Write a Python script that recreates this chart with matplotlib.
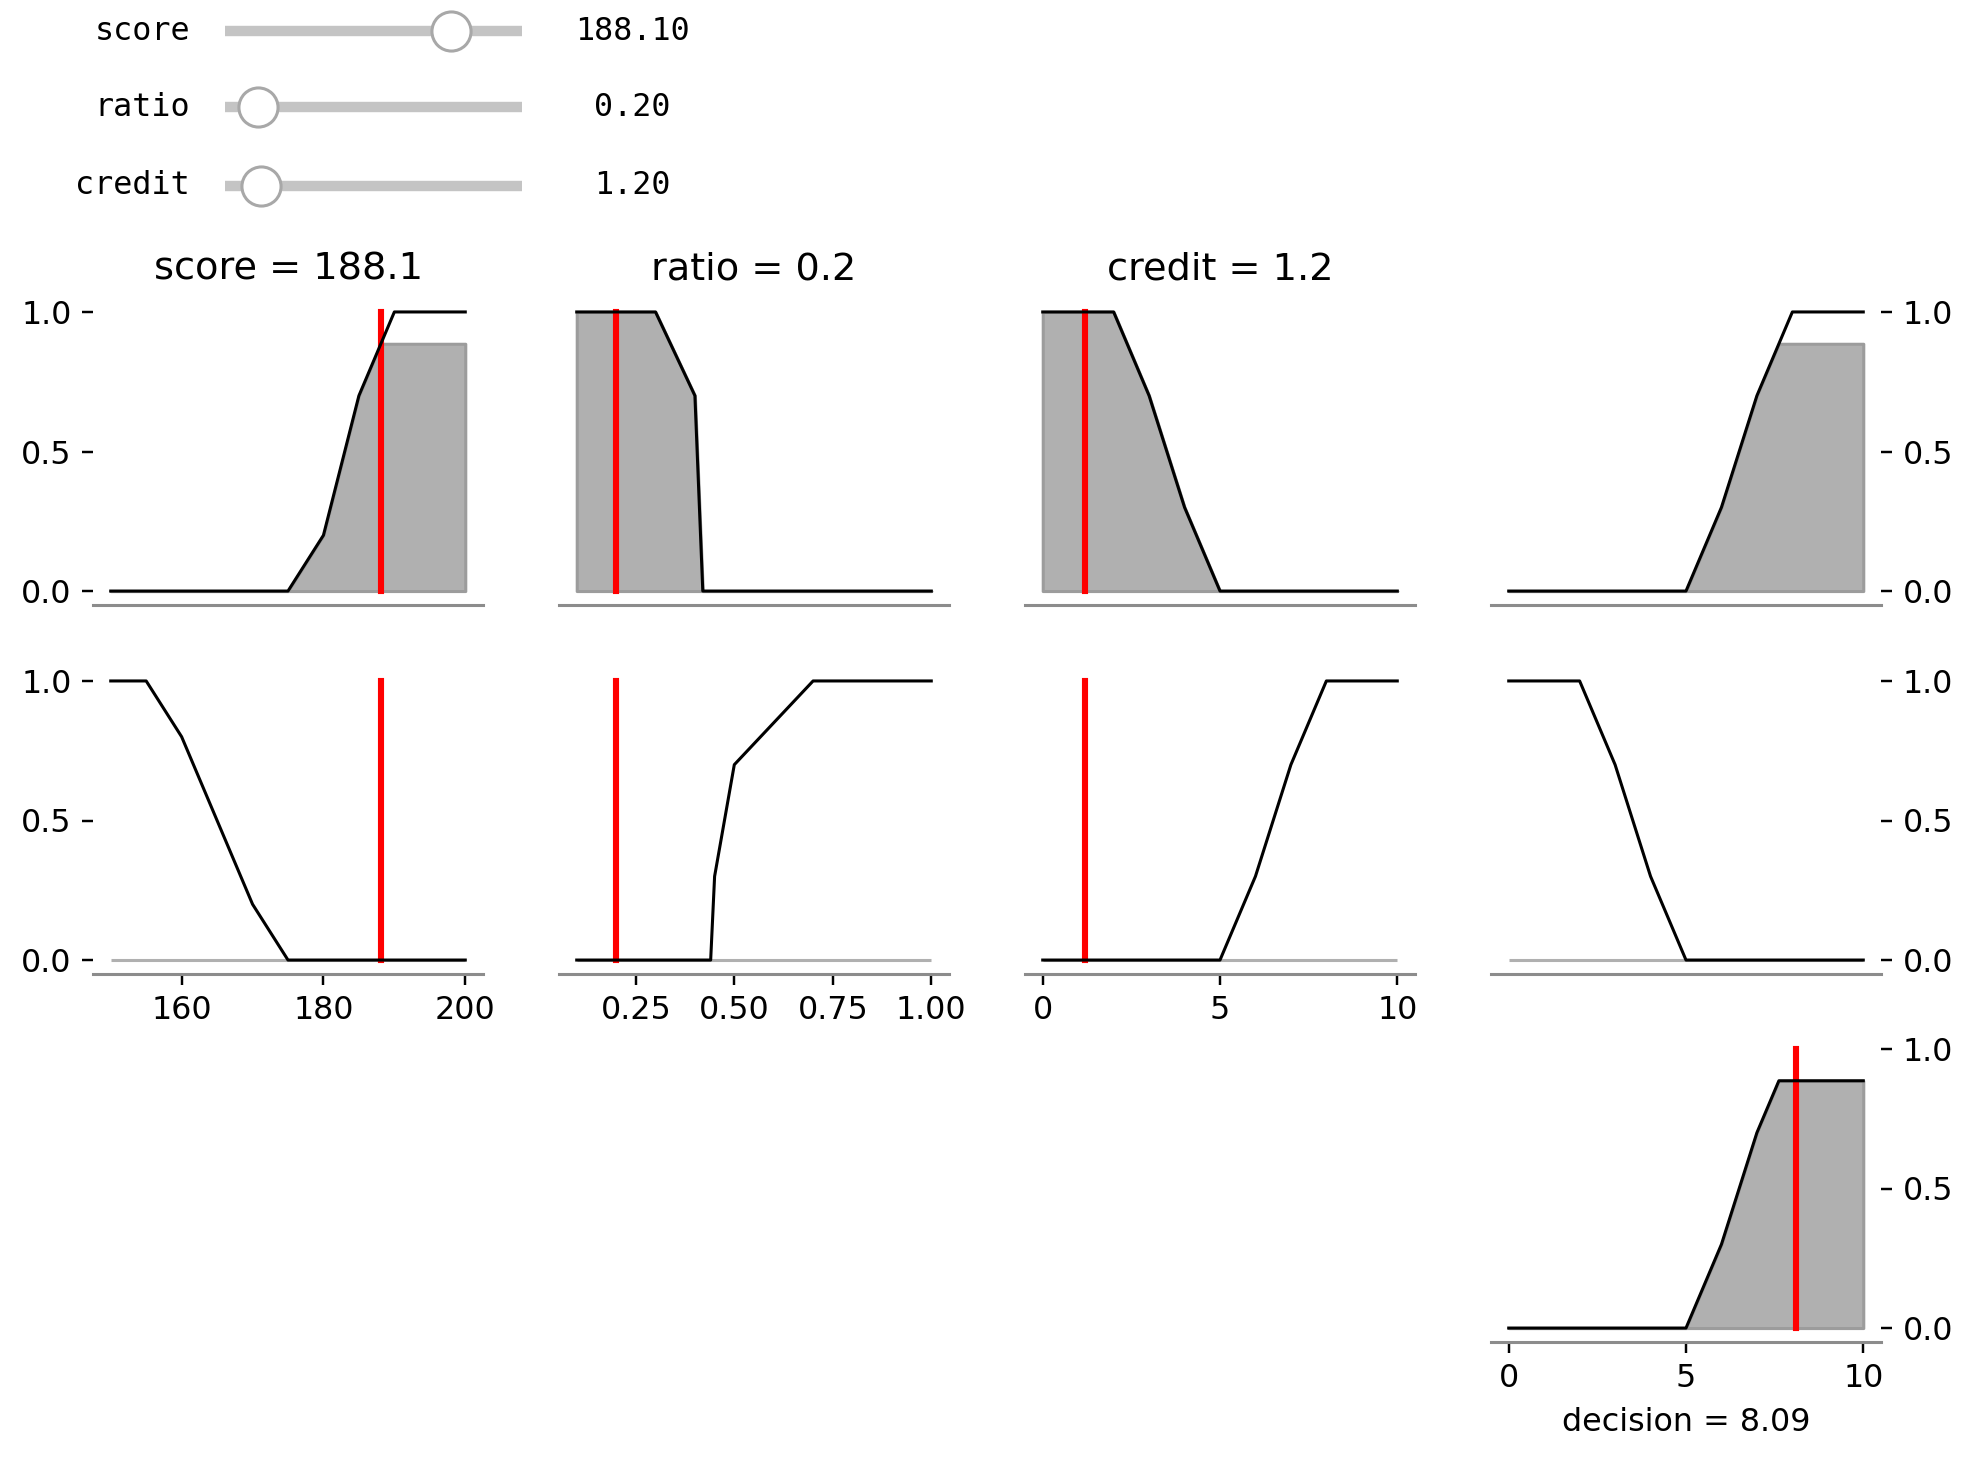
import numpy as np
import matplotlib
matplotlib.use("Agg")
import matplotlib.pyplot as plt

# ---------------- data ----------------
slider_names = ["score", "ratio", "credit"]
slider_values = [188.1, 0.2, 1.2]
slider_min = [150, 0.1, 0]
slider_max = [200, 1.0, 10]
slider_fmt = ["188.10", "0.20", "1.20"]

titles = ["score = 188.1", "ratio = 0.2", "credit = 1.2"]

# membership functions (row 1 rule antecedents / consequent)
score_high_x = [150, 175, 180, 185, 190, 200]
score_high_y = [0, 0, 0.2, 0.7, 1.0, 1.0]
ratio_low_x = [0.1, 0.3, 0.4, 0.42, 1.0]
ratio_low_y = [1.0, 1.0, 0.7, 0.0, 0.0]
credit_low_x = [0, 2, 3, 4, 5, 10]
credit_low_y = [1.0, 1.0, 0.7, 0.3, 0.0, 0.0]
decision_high_x = [0, 5, 6, 7, 8, 10]
decision_high_y = [0, 0, 0.3, 0.7, 1.0, 1.0]

# membership functions (row 2)
score_low_x = [150, 155, 160, 170, 175, 200]
score_low_y = [1.0, 1.0, 0.8, 0.2, 0.0, 0.0]
ratio_high_x = [0.1, 0.44, 0.45, 0.5, 0.7, 1.0]
ratio_high_y = [0, 0, 0.3, 0.7, 1.0, 1.0]
credit_high_x = [0, 5, 6, 7, 8, 10]
credit_high_y = [0, 0, 0.3, 0.7, 1.0, 1.0]
decision_low_x = [0, 2, 3, 4, 5, 10]
decision_low_y = [1.0, 1.0, 0.7, 0.3, 0.0, 0.0]

# activated (clipped) areas, row 1
score_fill_x = [150, 175, 180, 185, 188.1, 200]
score_fill_y = [0, 0, 0.2, 0.7, 0.886, 0.886]
ratio_fill_x = ratio_low_x
ratio_fill_y = ratio_low_y
credit_fill_x = credit_low_x
credit_fill_y = credit_low_y
decision_fill_x = [0, 5, 6, 7, 7.62, 10]
decision_fill_y = [0, 0, 0.3, 0.7, 0.886, 0.886]

# aggregated output
agg_x = [0, 5, 6, 7, 7.62, 10]
agg_y = [0, 0, 0.3, 0.7, 0.886, 0.886]
decision_value = 8.09

universes = [[150, 200], [0.1, 1.0], [0, 10], [0, 10]]
xticks = [[160, 180, 200], [0.25, 0.5, 0.75, 1.0], [0, 5, 10], [0, 5, 10]]
xticklabels = [["160", "180", "200"], ["0.25", "0.50", "0.75", "1.00"],
               ["0", "5", "10"], ["0", "5", "10"]]

row1 = [(score_high_x, score_high_y, score_fill_x, score_fill_y, 188.1),
        (ratio_low_x, ratio_low_y, ratio_fill_x, ratio_fill_y, 0.2),
        (credit_low_x, credit_low_y, credit_fill_x, credit_fill_y, 1.2),
        (decision_high_x, decision_high_y, decision_fill_x, decision_fill_y, None)]
row2 = [(score_low_x, score_low_y, 188.1),
        (ratio_high_x, ratio_high_y, 0.2),
        (credit_high_x, credit_high_y, 1.2),
        (decision_low_x, decision_low_y, None)]

# ---------------- figure ----------------
W, H, DPI = 1982, 1468, 220
fig = plt.figure(figsize=(W / DPI, H / DPI), dpi=DPI)

FS = 10.4
FS_TITLE = 12.5

col_x0 = [93, 559, 1025, 1491]
ax_w = 390
row_top = [298, 667, 1035]
ax_h = 307

FILL_FC = "#b0b0b0"
FILL_EC = "#9c9c9c"


def make_ax(r, c):
    left = col_x0[c] / W
    bottom = 1 - (row_top[r] + ax_h) / H
    ax = fig.add_axes([left, bottom, ax_w / W, ax_h / H])
    for s in ["top", "right", "left"]:
        ax.spines[s].set_visible(False)
    ax.spines["bottom"].set_color("#8c8c8c")
    ax.spines["bottom"].set_linewidth(1.0)
    ax.set_yticks([0, 0.5, 1.0])
    ax.set_yticklabels(["0.0", "0.5", "1.0"])
    if c == 0:
        ax.tick_params(axis="y", left=True, labelleft=True)
    elif c == 3:
        ax.yaxis.tick_right()
        ax.tick_params(axis="y", right=True, labelright=True)
    else:
        ax.tick_params(axis="y", left=False, labelleft=False)
    ax.set_xlim(universes[c][0] - 0.05 * (universes[c][1] - universes[c][0]),
                universes[c][1] + 0.05 * (universes[c][1] - universes[c][0]))
    ax.set_ylim(-0.05, 1.05)
    ax.set_xticks(xticks[c])
    ax.set_xticklabels(xticklabels[c])
    ax.tick_params(labelsize=FS)
    return ax


# row 1
for c, (mx, my, fx, fy, v) in enumerate(row1):
    ax = make_ax(0, c)
    ax.fill_between(fx, fy, 0, facecolor=FILL_FC, edgecolor=FILL_EC, linewidth=1.0, zorder=1)
    ax.plot(mx, my, color="black", lw=1.0, zorder=3)
    if v is not None:
        ax.plot([v, v], [0, 1], color="red", lw=2.0, zorder=2)
    ax.tick_params(axis="x", bottom=False, labelbottom=False)
    if c < 3:
        ax.set_title(titles[c], fontsize=FS_TITLE)

# row 2
for c, (mx, my, v) in enumerate(row2):
    ax = make_ax(1, c)
    ax.fill_between(universes[c], [0, 0], 0, facecolor=FILL_FC, edgecolor="#b0b0b0",
                    linewidth=1.0, zorder=1)
    ax.plot(mx, my, color="black", lw=1.0, zorder=3)
    if v is not None:
        ax.plot([v, v], [0, 1], color="red", lw=2.0, zorder=2)
    if c == 3:
        ax.tick_params(axis="x", bottom=False, labelbottom=False)

# row 3 aggregated output
ax = make_ax(2, 3)
ax.fill_between(agg_x, agg_y, 0, facecolor=FILL_FC, edgecolor=FILL_EC, linewidth=1.0, zorder=1)
ax.plot(agg_x, agg_y, color="black", lw=1.0, zorder=3)
ax.plot([decision_value, decision_value], [0, 1], color="red", lw=2.0, zorder=2)
ax.set_xlabel("decision = 8.09", fontsize=FS)

# ---------------- sliders ----------------
slider_y = [31, 107, 186]
track_x0, track_x1 = 225, 522
for i, name in enumerate(slider_names):
    sh = 40
    sax = fig.add_axes([track_x0 / W, 1 - (slider_y[i] + sh / 2) / H,
                        (track_x1 - track_x0) / W, sh / H])
    sax.set_xlim(slider_min[i], slider_max[i])
    sax.set_ylim(-1, 1)
    sax.axis("off")
    sax.plot([slider_min[i], slider_max[i]], [0, 0], color="#c4c4c4", lw=3.4,
             solid_capstyle="butt", zorder=1, clip_on=False)
    sax.plot([slider_values[i]], [0], "o", ms=12.8, mfc="white", mec="#a8a8a8",
             mew=1.0, zorder=2, clip_on=False)
    fig.text(190 / W, 1 - slider_y[i] / H, name, ha="right", va="center",
             family="DejaVu Sans Mono", fontsize=FS)
    fig.text(632 / W, 1 - slider_y[i] / H, slider_fmt[i], ha="center", va="center",
             family="DejaVu Sans Mono", fontsize=FS)

fig.savefig("out.png", dpi=DPI)
